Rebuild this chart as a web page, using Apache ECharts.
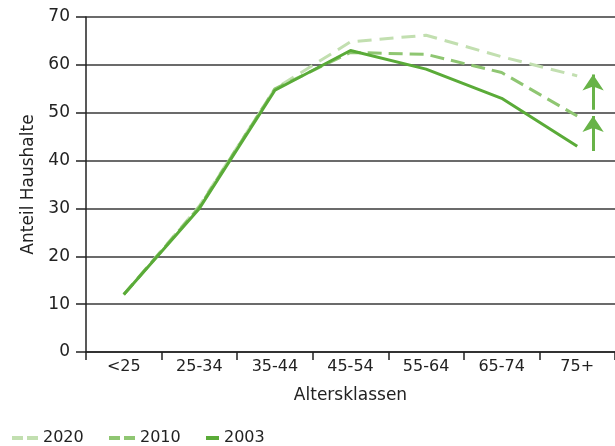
<!DOCTYPE html>
<html>
<head>
<meta charset="utf-8">
<script src="https://cdn.jsdelivr.net/npm/echarts@6/dist/echarts.min.js"></script>
<style>html,body{margin:0;padding:0;background:#fff;}#c{width:615px;height:446px;}</style>
</head>
<body>
<div id="c"></div>
<script>
const categories = ['<25', '25-34', '35-44', '45-54', '55-64', '65-74', '75+'];
const values2020 = [12, 30.5, 55, 64.8, 66.2, 61.7, 57.7];
const values2010 = [12, 30.3, 55, 62.6, 62.2, 58.4, 49.3];
const values2003 = [12, 30, 54.7, 63, 59.1, 53, 43];
const yTicks = [0, 10, 20, 30, 40, 50, 60, 70];
// arrows: x position on a 0..7 category scale, [from, to] values
const arrowX = 6.71;
const arrowLower = [42, 49.3];
const arrowUpper = [50.6, 58];

const col2020 = '#c2dfb0', col2010 = '#8fc672', col2003 = '#5aab38', colArrow = '#68b348';
const font = 'DejaVu Sans, sans-serif';
const txt = '#222';

const dashIcon = 'path://M0,0H11V4H0Z M15,0H26V4H15Z';
const soloIcon = 'path://M0,0H13V4H0Z';

function legendFor(name, left, icon, w) {
  return {
    left: left, top: 430, padding: 0, itemWidth: w, itemHeight: 4,
    icon: icon, itemStyle: { borderWidth: 0 },
    textStyle: { fontSize: 16, color: txt, fontFamily: font },
    data: [{ name: name, icon: icon }]
  };
}

const chart = echarts.init(document.getElementById('c'));
chart.setOption({
  animation: false,
  textStyle: { fontFamily: font },
  grid: { left: 86, right: -1, top: 17, bottom: 94, containLabel: false },
  legend: [
    legendFor('2020', 12, dashIcon, 26),
    legendFor('2010', 109, dashIcon, 26),
    legendFor('2003', 206, soloIcon, 13)
  ],
  xAxis: [{
    type: 'category', data: categories, boundaryGap: true,
    axisLine: { lineStyle: { color: txt, width: 1.5 } },
    axisTick: { show: true, length: 8, lineStyle: { color: txt, width: 1.5 } },
    axisLabel: { fontSize: 16, color: txt, margin: 7, fontFamily: font },
    name: 'Altersklassen', nameLocation: 'middle', nameGap: 35,
    nameTextStyle: { fontSize: 17, color: txt, fontFamily: font }
  }, {
    type: 'value', min: 0, max: 7, show: false
  }],
  yAxis: {
    type: 'value', min: yTicks[0], max: yTicks[yTicks.length - 1], interval: 10,
    axisLine: { show: true, lineStyle: { color: txt, width: 1.5 } },
    axisTick: { show: true, length: 10, lineStyle: { color: txt, width: 1.5 } },
    axisLabel: { fontSize: 17, color: txt, margin: 16, fontFamily: font },
    splitLine: { lineStyle: { color: '#3a3a3a', width: 1.5 } },
    name: 'Anteil Haushalte', nameLocation: 'middle', nameGap: 49,
    nameTextStyle: { fontSize: 17, color: txt, fontFamily: font }
  },
  series: [
    { name: '2020', type: 'line', data: values2020, showSymbol: false, z: 2,
      itemStyle: { color: col2020, borderWidth: 0 },
      lineStyle: { color: col2020, width: 3, type: [14, 8] } },
    { name: '2010', type: 'line', data: values2010, showSymbol: false, z: 3,
      itemStyle: { color: col2010, borderWidth: 0 },
      lineStyle: { color: col2010, width: 3, type: [14, 7] } },
    { name: '2003', type: 'line', data: values2003, showSymbol: false, z: 4,
      itemStyle: { color: col2003, borderWidth: 0 },
      lineStyle: { color: col2003, width: 3 } },
    { type: 'lines', coordinateSystem: 'cartesian2d', xAxisIndex: 1, yAxisIndex: 0,
      symbol: ['none', 'arrow'], symbolSize: [9, 16], z: 5,
      lineStyle: { color: colArrow, width: 3, opacity: 1, curveness: 0 },
      data: [
        { coords: [[arrowX, arrowLower[0]], [arrowX, arrowLower[1]]] },
        { coords: [[arrowX, arrowUpper[0]], [arrowX, arrowUpper[1]]] }
      ] }
  ]
});
</script>
</body>
</html>
